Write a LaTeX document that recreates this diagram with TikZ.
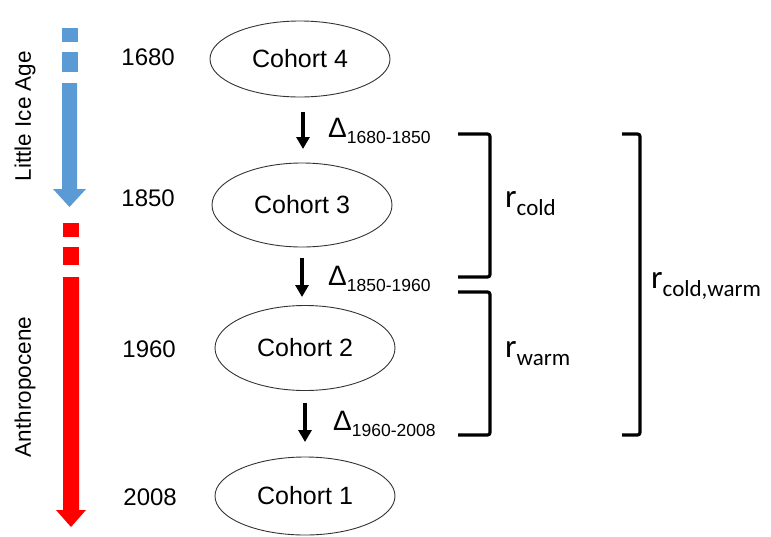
\documentclass[tikz,border=0pt]{standalone}
\usepackage{fontspec}
\setmainfont{Liberation Sans}
\newfontfamily\calfont{Carlito}
\usetikzlibrary{shapes.geometric,arrows.meta}
\definecolor{iceblue}{RGB}{91,155,213}
\definecolor{hotred}{RGB}{255,0,0}
\tikzset{
  cohort/.style={draw=black!80, line width=0.9pt, ellipse, inner sep=0pt, font=\fontsize{25}{25}\selectfont},
  year/.style={anchor=east, font=\fontsize{24}{24}\selectfont, inner sep=0pt},
  era/.style={rotate=90, font=\fontsize{22.5}{22.5}\selectfont, inner sep=0pt},
  darr/.style={line width=3.8pt, -{Triangle[width=13pt,length=12pt]}},
  brk/.style={line width=3.2pt, rounded corners=2.5pt},
  lab/.style={anchor=base west, inner sep=0pt}
}
\newcommand{\dlab}[1]{{\fontsize{28}{28}\selectfont Δ}{\fontsize{17.5}{17.5}\selectfont\raisebox{-6pt}{#1}}}
\newcommand{\rlab}[1]{{\calfont\fontsize{33}{33}\selectfont r}{\calfont\fontsize{23}{23}\selectfont\raisebox{-8pt}{#1}}}
\begin{document}
\begin{tikzpicture}[x=1pt,y=-1pt]
\useasboundingbox (0,0) rectangle (771,536);
% era arrows
\fill[iceblue] (62,28) rectangle (78,42);
\fill[iceblue] (62,52) rectangle (78,72);
\fill[iceblue] (62,83) -- (77,83) -- (77,189) -- (86,189) -- (69.5,207) -- (53,189) -- (62,189) -- cycle;
\fill[hotred] (63,223) rectangle (79,237);
\fill[hotred] (63,247) rectangle (79,265);
\fill[hotred] (63,277) -- (79,277) -- (79,510) -- (86,510) -- (71,527) -- (56,510) -- (63,510) -- cycle;
\node[era] (lia) at (25,116) {Little Ice Age};
\node[era] (anth) at (25,387) {Anthropocene};
% years
\node[year] (y1680) at (175,57) {1680};
\node[year] (y1850) at (175,198) {1850};
\node[year] (y1960) at (176,349) {1960};
\node[year] (y2008) at (177,497) {2008};
% cohorts
\node[cohort, minimum width=180pt, minimum height=76pt] (c4) at (300,59) {Cohort 4};
\node[cohort, minimum width=180pt, minimum height=84pt] (c3) at (302,205) {Cohort 3};
\node[cohort, minimum width=180pt, minimum height=85pt] (c2) at (305,348) {Cohort 2};
\node[cohort, minimum width=180pt, minimum height=78pt] (c1) at (305,496) {Cohort 1};
% arrows
\coordinate (a1s) at (303,112); \coordinate (a1e) at (303,149);
\coordinate (a2s) at (302,258); \coordinate (a2e) at (302,297);
\coordinate (a3s) at (305,403); \coordinate (a3e) at (305,442);
\draw[darr] (a1s) -- (a1e);
\draw[darr] (a2s) -- (a2e);
\draw[darr] (a3s) -- (a3e);
\node[lab] (d1) at (328,137) {\dlab{1680-1850}};
\node[lab] (d2) at (328,285) {\dlab{1850-1960}};
\node[lab] (d3) at (333,430) {\dlab{1960-2008}};
% brackets
\draw[brk] (458,134) -- (490,134) -- (490,277) -- (458,277);
\draw[brk] (458,292) -- (490,292) -- (490,435) -- (458,435);
\draw[brk] (622,134) -- (640,134) -- (640,435) -- (622,435);
\node[lab] (rc) at (505,207) {\rlab{cold}};
\node[lab] (rw) at (505,357) {\rlab{warm}};
\node[lab] (rcw) at (651,288) {\rlab{cold,warm}};
\end{tikzpicture}
\end{document}
